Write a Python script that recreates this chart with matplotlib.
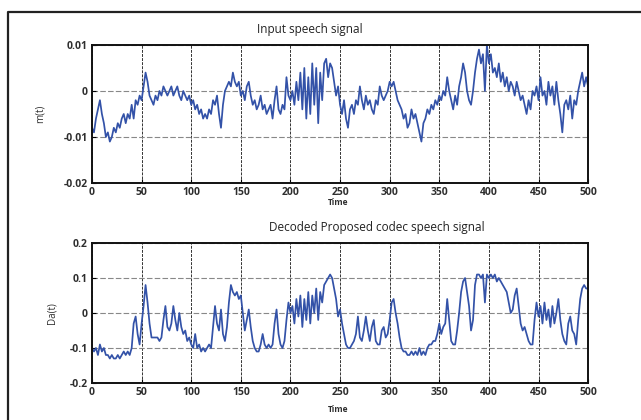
import numpy as np
import matplotlib.pyplot as plt
from matplotlib.lines import Line2D

plt.rcParams['font.family'] = ['Open Sans', 'DejaVu Sans']

# sample index, every 2nd sample
t = np.arange(0, 501, 2)

# input speech m(t), in units of 1e-3
m_vals = [
    -8, -9, -6, -4, -2, -5, -7, -10, -9, -11, -10, -8, -9, -7, -8, -6, -5, -7, -5, -6,
    -3, -6, -2, -3, -1, -2, 1, 4, 2, -1, -2, -3, -1, -2, 0, -1, 1, 0, -1, 0,
    1, -1, 0, 1, -1, -2, 0, -1, -2, -1, -3, -2, -4, -3, -5, -4, -6, -5, -6, -4,
    -5, -2, -3, -1, -5, -8, -3, 0, 1, 2, 1, 4, 2, 1, 2, -1, 0, -2, 1, 2,
    -1, -3, -2, -4, -3, -1, -4, -3, -5, -4, -3, -6, -2, 1, -4, -5, -3, -4, 3, -1,
    -2, 0, -3, 2, -2, 4, -4, 5, -6, 3, -5, 6, -3, 5, -7, 4, -2, 6, 7, 3,
    6, 5, 2, -1, 1, -3, -5, -2, -6, -8, -4, -3, -5, -2, -3, 1, -2, -4, -1, -3,
    -2, -4, -5, -2, -3, 1, -1, -2, -1, 0, 2, 1, 2, 0, -2, -3, -4, -6, -5, -8,
    -7, -4, -6, -5, -7, -9, -11, -7, -6, -4, -5, -3, -4, -2, -3, -1, -2, 0, -1, 3,
    0, -2, -4, -1, -3, 1, 3, 6, 4, 0, -2, -3, 0, 4, 7, 9, 6, 8, 0, 10,
    6, 8, 4, 5, 3, 6, 2, 4, 1, 3, 0, 2, 1, -1, 2, 0, -2, -1, -3, -5,
    -2, -4, 0, -1, 1, -2, 3, -1, 0, -3, 2, -1, 1, -3, 2, -2, -5, -9, -3, -2,
    -4, -1, -6, -2, -3, 0, 2, 4, 1, 3, 1,
]

# decoded signal Da(t), in units of 1e-2
d_vals = [
    -10, -11, -10, -12, -9, -11, -10, -12, -12, -13, -12, -13, -13, -12, -13, -12, -11, -12, -11, -12,
    -10, -3, -1, -6, -9, -3, 2, 8, 3, -3, -7, -7, -7, -7, -8, -7, -2, 2, -4, -5,
    -3, 2, -2, -5, 0, -4, -6, -5, -8, -7, -9, -10, -6, -10, -9, -11, -10, -11, -10, -9,
    -10, -4, 2, -3, -5, 1, -6, -8, -4, 3, 8, 6, 5, 6, 4, 5, 0, -5, -2, 1,
    -4, -8, -10, -11, -11, -9, -6, -9, -10, -9, -10, -9, -3, 1, -6, -9, -10, -8, -2, 3,
    0, 2, -3, 4, -1, 5, -4, 4, -2, 6, -3, 5, 0, 7, -2, 6, 3, 8, 9, 10,
    11, 10, 7, 4, -1, 1, -3, -6, -9, -10, -10, -9, -8, -6, -1, -7, -8, -5, -1, -5,
    -8, -4, -2, -8, -9, -9, -5, -4, -7, -6, -2, 3, 4, 0, -3, -7, -10, -11, -11, -12,
    -12, -11, -12, -11, -12, -10, -12, -11, -12, -10, -9, -9, -8, -8, -6, -3, -6, -4, -3, 4,
    -2, -8, -9, -9, -5, 0, 6, 9, 10, 6, 2, -5, -2, 8, 11, 11, 10, 11, 3, 11,
    10, 11, 10, 11, 9, 10, 9, 8, 7, 6, 3, 0, 1, 5, 7, 2, -3, -5, -4, -6,
    -8, -9, -9, -2, 3, -1, 2, -3, 3, -2, 1, -4, 2, -3, 0, 4, -2, -6, -8, -9,
    -3, -1, -5, -6, -9, -2, 4, 7, 8, 7, 7,
]

m = np.array(m_vals) * 1e-3
d = np.array(d_vals) * 1e-2

line_color = '#3352a8'
tick_color = '#2e2e2e'

fig = plt.figure(figsize=(6.41, 4.2), dpi=100)

ax1 = fig.add_axes([0.1435, 0.5643, 0.774, 0.3286])
ax2 = fig.add_axes([0.1435, 0.0881, 0.774, 0.3333])

ax1.plot(t, m, color=line_color, lw=1.25)
ax2.plot(t, d, color=line_color, lw=1.25)

ax1.set_ylim(-0.02, 0.01)
ax1.set_yticks([-0.02, -0.01, 0, 0.01])
ax1.set_yticklabels(['-0.02', '-0.01', '0', '0.01'])
ax2.set_ylim(-0.2, 0.2)
ax2.set_yticks([-0.2, -0.1, 0, 0.1, 0.2])
ax2.set_yticklabels(['-0.2', '-0.1', '0', '0.1', '0.2'])

for ax in (ax1, ax2):
    ax.set_xlim(0, 500)
    ax.set_xticks(range(0, 501, 50))
    ax.tick_params(direction='in', length=3, width=0.8, labelsize=7.5,
                   labelcolor=tick_color, pad=3)
    for lab in ax.get_xticklabels() + ax.get_yticklabels():
        lab.set_fontweight('bold')
    ax.xaxis.grid(True, color='#333333', linestyle=(0, (3, 1.2)), lw=0.7)
    ax.yaxis.grid(True, color='#888888', linestyle=(0, (5, 2)), lw=0.8)
    ax.set_axisbelow(True)
    for sp in ax.spines.values():
        sp.set_linewidth(1.4)
        sp.set_color('#111111')

ax1.set_ylabel('m(t)', fontsize=7, color=tick_color, labelpad=13)
ax2.set_ylabel('Da(t)', fontsize=7, color=tick_color, labelpad=9)

fig.text(0.483, 0.929, 'Input speech signal', fontsize=8.5, color='#222222',
         ha='center', va='center')
fig.text(0.588, 0.459, 'Decoded Proposed codec speech signal', fontsize=8.5,
         color='#222222', ha='center', va='center')
fig.text(0.527, 0.517, 'Time', fontsize=6, color=tick_color, ha='center',
         va='center', fontweight='bold')
fig.text(0.527, 0.026, 'Time', fontsize=6, color=tick_color, ha='center',
         va='center', fontweight='bold')

# outer frame around both panels
x0 = 8 / 641
y0 = 1 - 12 / 420
fig.add_artist(Line2D([x0, x0, 1.01], [-0.01, y0, y0], color='#222222',
                      lw=1.6, transform=fig.transFigure))

fig.savefig('out.png', dpi=100)
